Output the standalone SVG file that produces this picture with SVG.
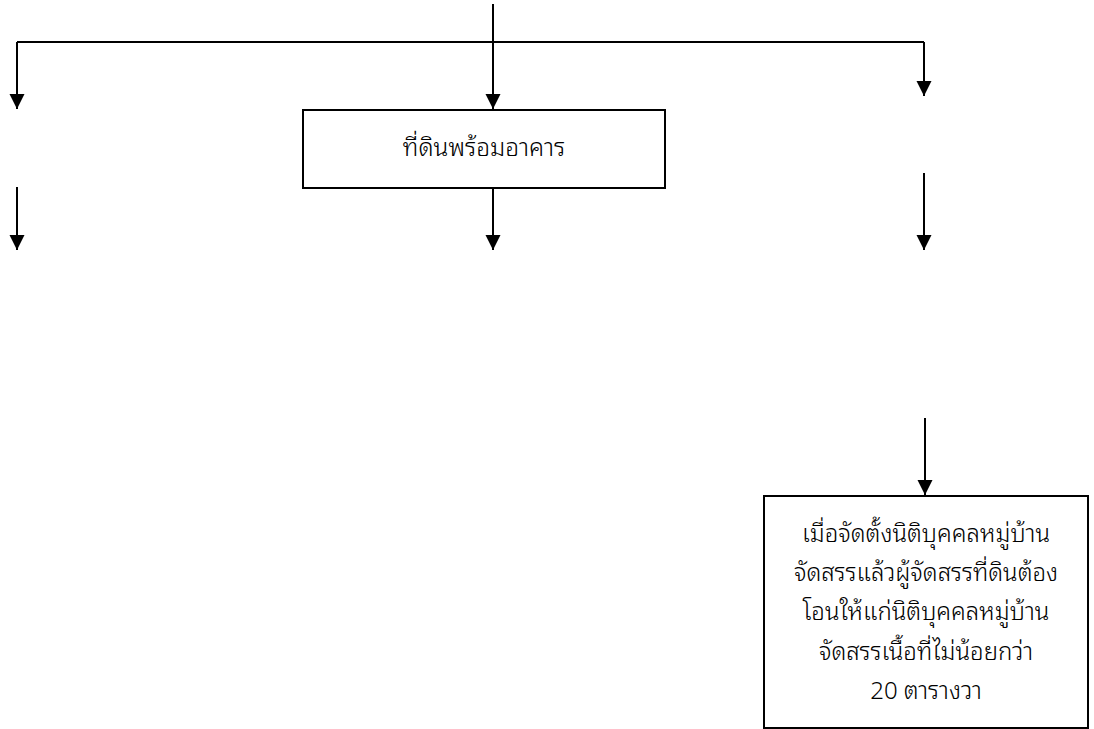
<svg xmlns="http://www.w3.org/2000/svg" width="1094" height="729" viewBox="0 0 1094 729">
<style>
.box{fill:#fff;stroke:#000;stroke-width:2}
.ln{fill:none;stroke:#000;stroke-width:2}
.t{font-family:"Noto Sans Thai Looped","Noto Sans Thai","Noto Sans","DejaVu Sans",sans-serif;font-size:24.5px;font-weight:300;fill:#000;text-anchor:middle}
.s{font-size:24px}
</style>
<defs>
<marker id="ah" markerUnits="userSpaceOnUse" markerWidth="16" markerHeight="16" viewBox="0 0 16 16" refX="15" refY="8" orient="auto">
<path d="M0,0.5 L15,8 L0,15.5 Z" fill="#000"/>
</marker>
</defs>
<rect width="1094" height="729" fill="#fff"/>
<g id="connectors">
<path class="ln" d="M493,4 V109" marker-end="url(#ah)"/>
<path class="ln" d="M17,42 H924"/>
<path class="ln" d="M17,42 V109" marker-end="url(#ah)"/>
<path class="ln" d="M924,42 V96" marker-end="url(#ah)"/>
<path class="ln" d="M17,187 V250" marker-end="url(#ah)"/>
<path class="ln" d="M493,188 V250" marker-end="url(#ah)"/>
<path class="ln" d="M924,173 V250" marker-end="url(#ah)"/>
<path class="ln" d="M925,418 V495" marker-end="url(#ah)"/>
</g>
<g id="node-land-building">
<rect class="box" x="303" y="110" width="362" height="78"/>
<text class="t" x="484" y="156">ที่ดินพร้อมอาคาร</text>
</g>
<g id="node-transfer">
<rect class="box" x="764" y="496" width="324" height="232"/>
<text class="t s" x="926" y="542">เมื่อจัดตั้งนิติบุคคลหมู่บ้าน</text>
<text class="t s" x="926" y="581">จัดสรรแล้วผู้จัดสรรที่ดินต้อง</text>
<text class="t s" x="926" y="620">โอนให้แก่นิติบุคคลหมู่บ้าน</text>
<text class="t s" x="926" y="660">จัดสรรเนื้อที่ไม่น้อยกว่า</text>
<text class="t s" x="926" y="699">20 ตารางวา</text>
</g>
</svg>
